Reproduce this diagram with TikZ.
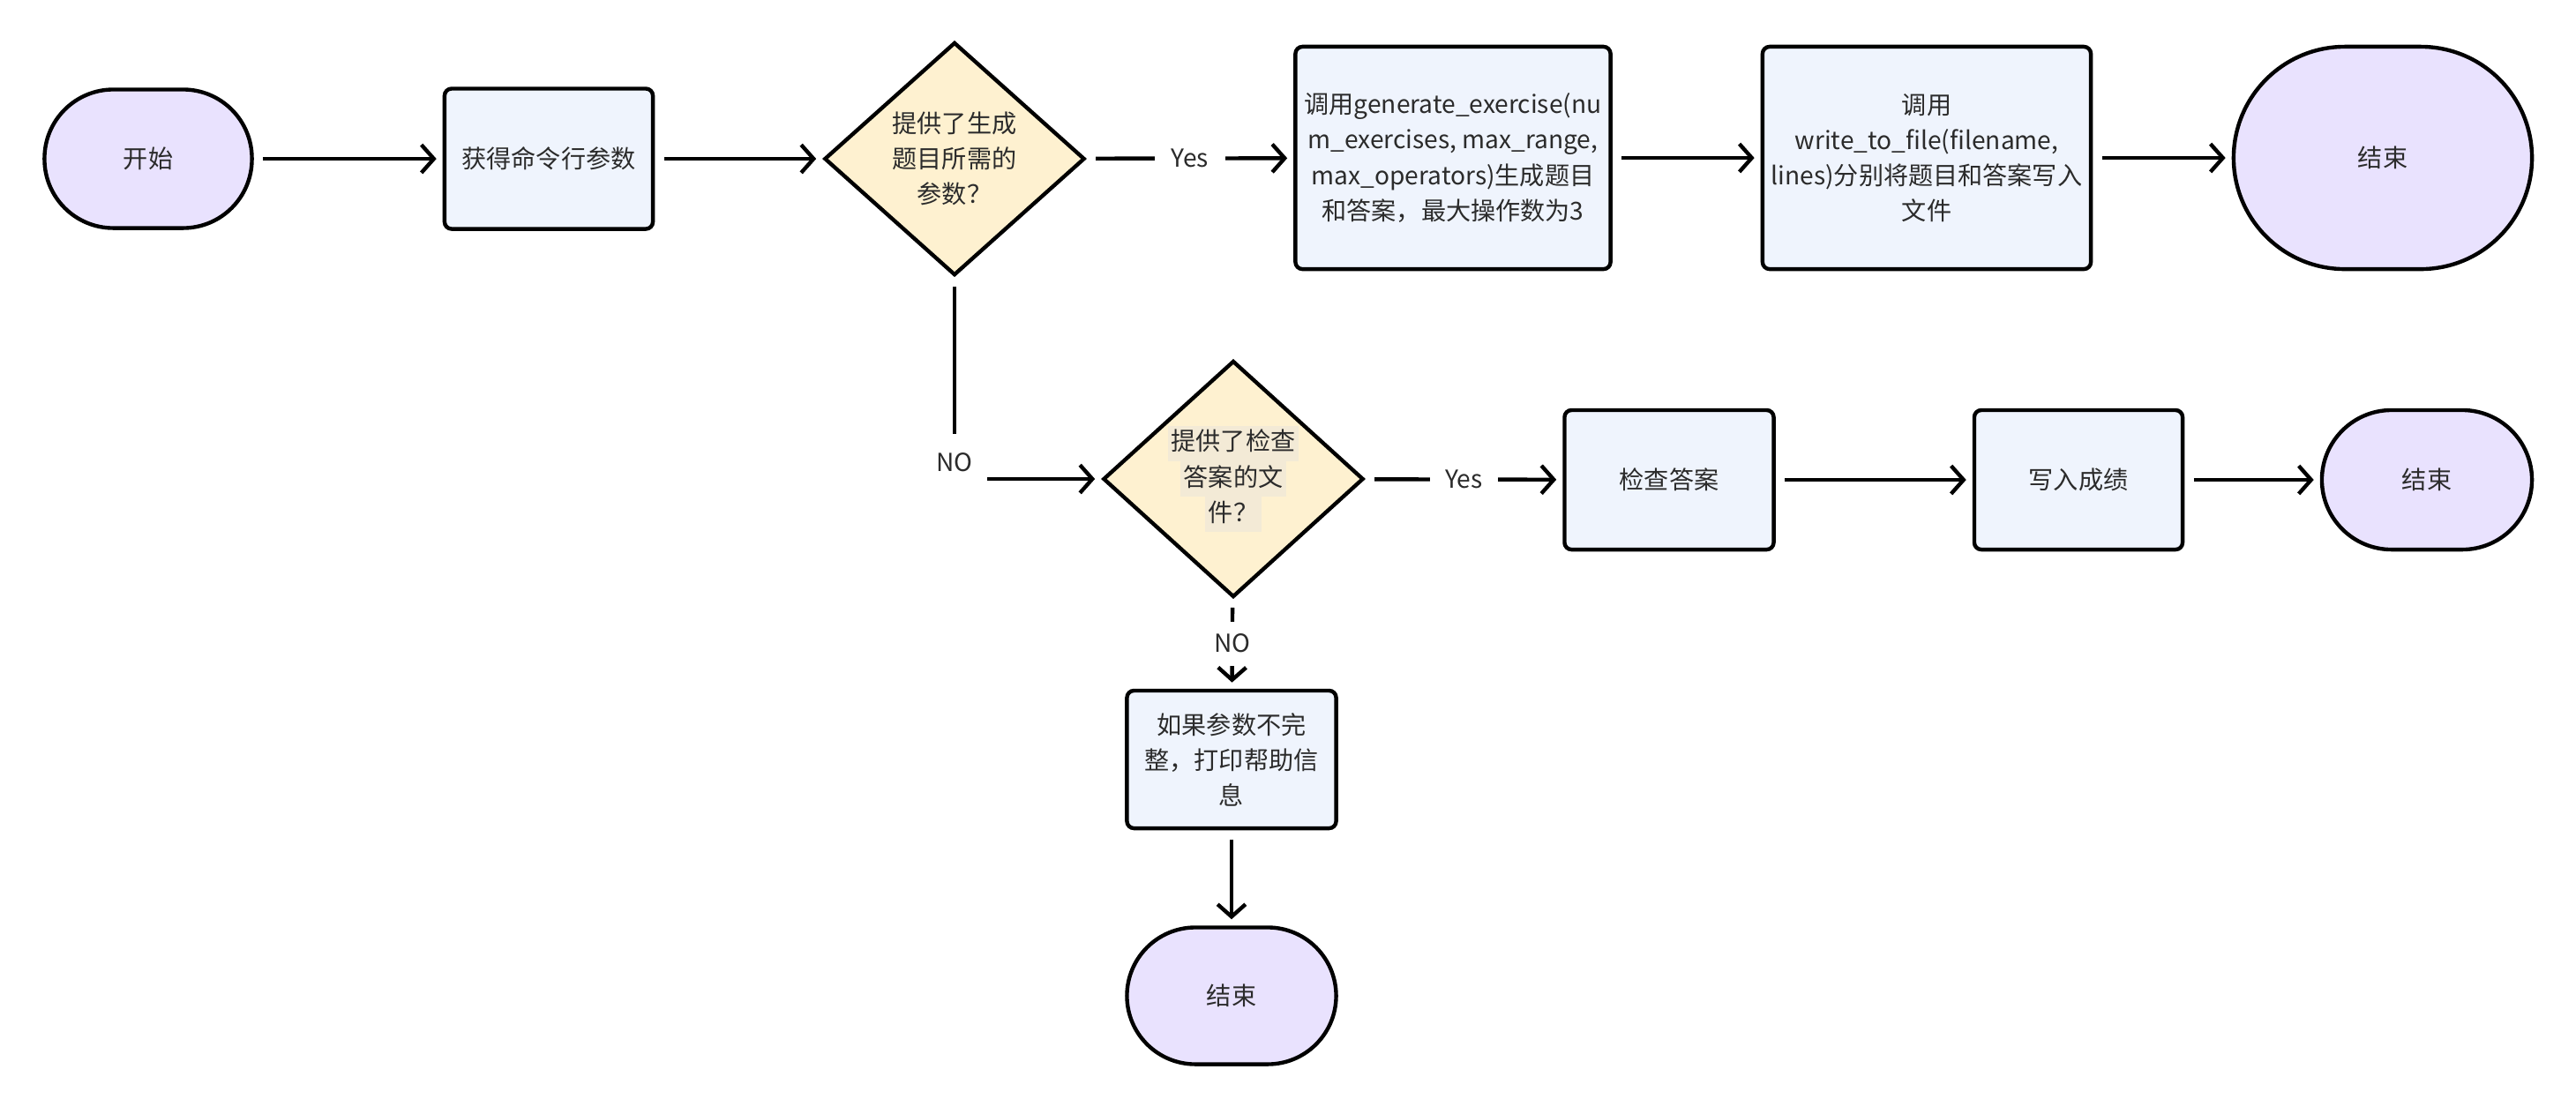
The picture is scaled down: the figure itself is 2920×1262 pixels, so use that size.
\documentclass[tikz,border=0pt]{standalone}
\usepackage{fontspec}
\setmainfont{Noto Sans CJK SC}
\usetikzlibrary{arrows.meta, positioning, shapes.geometric}
\definecolor{termfill}{HTML}{E9E2FE}
\definecolor{procfill}{HTML}{EFF4FD}
\definecolor{decfill}{HTML}{FEF1D0}
\definecolor{hlbg}{HTML}{F3EAD6}
\definecolor{inktext}{HTML}{2B2B2B}
\newcommand{\hlline}[1]{{\setlength{\fboxsep}{0pt}\colorbox{hlbg}{\kern1pt\strut#1\kern1pt}}}
\tikzset{->,>={Straight Barb[length=4pt,width=9pt]},shorten >=2pt,shorten <=3pt,
    terminal/.style={rectangle,draw,fill=termfill,text=inktext,align=center,rounded corners=#1},
    process/.style={rectangle,draw,fill=procfill,text=inktext,align=center,rounded corners=0.08cm,inner sep=0pt},
    decision/.style={diamond,draw,fill=decfill,text=inktext,align=center,inner sep=0pt},
    answer/.style={fill=white,text=inktext,inner sep=1pt}}

\begin{document}
\begin{tikzpicture}[x=0.01cm,y=-0.01cm,line width=1.25pt,font=\fontsize{8pt}{11.4pt}\selectfont]
\path[use as bounding box] (0,0) rectangle (2920,1262);
% top row
\node[terminal=0.78cm, minimum width=2.35cm, minimum height=1.57cm] (start) at (168,180) {开始};
\node[process, minimum width=2.36cm, minimum height=1.59cm] (args) at (622,180) {获得命令行参数};
\node[decision, minimum width=2.95cm, minimum height=2.64cm] (q1) at (1082,180) {提供了生成\\题目所需的\\参数？};
\node[process, minimum width=3.57cm, minimum height=2.52cm] (gen) at (1647,179) {调用generate\_exercise(nu\\m\_exercises, max\_range,\\max\_operators)生成题目\\和答案，最大操作数为3};
\node[process, minimum width=3.72cm, minimum height=2.52cm] (write) at (2184,179) {调用\\write\_to\_file(filename,\\lines)分别将题目和答案写入\\文件};
\node[terminal=1.26cm, minimum width=3.38cm, minimum height=2.52cm] (end1) at (2701,179) {结束};
% middle row
\node[decision, minimum width=2.95cm, minimum height=2.50cm] (q2) at (1398,543) {\hlline{提供了检查}\\\hlline{答案的文}\\\hlline{件？}};
\node[process, minimum width=2.37cm, minimum height=1.58cm] (check) at (1892,544) {检查答案};
\node[process, minimum width=2.36cm, minimum height=1.58cm] (score) at (2356,544) {写入成绩};
\node[terminal=0.79cm, minimum width=2.38cm, minimum height=1.58cm] (end2) at (2751,544) {结束};
% bottom branch
\node[process, minimum width=2.37cm, minimum height=1.56cm] (help) at (1396,861) {如果参数不完\\整，打印帮助信\\息};
\node[terminal=0.775cm, minimum width=2.37cm, minimum height=1.55cm] (end3) at (1396,1129) {结束};

\draw (start) -- (args);
\draw (args) -- (q1);
\draw (q1) -- node[answer, minimum width=0.8cm] {Yes} (gen);
\draw (gen) -- (write);
\draw (write) -- (end1);
\draw (q1) |- node[answer, minimum width=0.74cm, minimum height=0.64cm, yshift=0.19cm] {NO} (q2);
\draw (q2) -- node[answer, minimum width=0.77cm] {Yes} (check);
\draw (check) -- (score);
\draw (score) -- (end2);
\draw (q2) -- node[answer, minimum height=0.5cm] {NO} (help);
\draw (help) -- (end3);
\end{tikzpicture}
\end{document}
